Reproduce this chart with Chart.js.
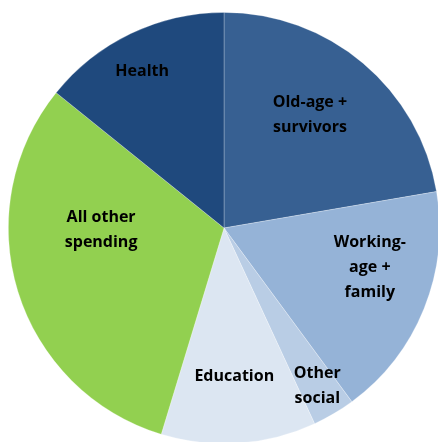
<!DOCTYPE html>
<html>
<head>
<meta charset="utf-8">
<script src="https://cdn.jsdelivr.net/npm/chart.js@4/dist/chart.umd.min.js"></script>
<style>
  html, body { margin: 0; padding: 0; background: #fff; overflow: hidden; }
  #wrap { position: absolute; left: 0; top: 0; width: 448px; height: 444px; }
</style>
</head>
<body>
<div id="wrap"><canvas id="pieChart"></canvas></div>
<script>
// spending shares (percent)
const categories = ['Old-age + survivors', 'Working-age + family', 'Other social', 'Education', 'All other spending', 'Health'];
const shares = [22.3, 17.6, 3.2, 11.6, 31.1, 14.2];
const sliceColors = ['#376092', '#95b3d7', '#b9cde5', '#dce6f2', '#92d050', '#1f497d'];
// label text lines per slice
const labelLines = [
  ['Old-age +', 'survivors'],
  ['Working-', 'age +', 'family'],
  ['Other', 'social'],
  ['Education'],
  ['All other', 'spending'],
  ['Health']
];
// where the label sits: angle shift from slice middle (deg) and fraction of radius
const labelShift = [-3, -7, 0, 0, 16, -2];
const labelDist = [0.66, 0.70, 0.85, 0.69, 0.57, 0.82];

const sliceLabels = {
  id: 'sliceLabels',
  afterDatasetsDraw(chart) {
    const ctx = chart.ctx;
    const arcs = chart.getDatasetMeta(0).data;
    ctx.save();
    ctx.font = 'bold 16px "Open Sans", sans-serif';
    ctx.fillStyle = '#000';
    ctx.textAlign = 'center';
    ctx.textBaseline = 'middle';
    arcs.forEach((arc, i) => {
      const p = arc.getProps(['x', 'y', 'startAngle', 'endAngle', 'outerRadius'], true);
      const mid = (p.startAngle + p.endAngle) / 2 + labelShift[i] * Math.PI / 180;
      const r = p.outerRadius * labelDist[i];
      const cx = p.x + Math.cos(mid) * r;
      const cy = p.y + Math.sin(mid) * r;
      const lines = labelLines[i];
      const lh = 25;
      lines.forEach((t, k) => {
        ctx.fillText(t, cx, cy + (k - (lines.length - 1) / 2) * lh);
      });
    });
    ctx.restore();
  }
};

new Chart(document.getElementById('pieChart'), {
  type: 'pie',
  data: {
    labels: categories,
    datasets: [{
      data: shares,
      backgroundColor: sliceColors,
      borderColor: 'rgba(255,255,255,0.35)',
      borderWidth: 0.75
    }]
  },
  options: {
    responsive: true,
    maintainAspectRatio: false,
    animation: false,
    layout: { padding: { top: 12, left: 0, right: 0, bottom: 0 } },
    plugins: {
      legend: { display: false },
      tooltip: { enabled: false }
    }
  },
  plugins: [sliceLabels]
});
</script>
</body>
</html>
